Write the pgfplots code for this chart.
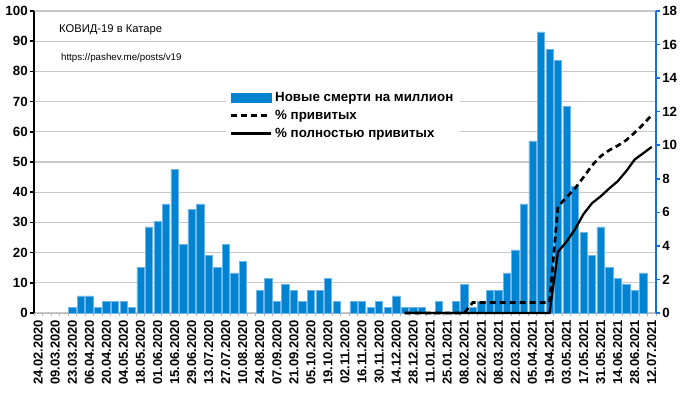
\documentclass[border=0pt]{standalone}
\usepackage{fontspec}
\setmainfont{Liberation Sans}
\usepackage{pgfplots}
\usepackage{pgfplotstable}
\pgfplotsset{compat=1.18}
\definecolor{barblue}{RGB}{0,132,209}
\definecolor{baredge}{RGB}{110,180,232}
\definecolor{axblue}{RGB}{24,110,216}
\definecolor{gridgray}{RGB}{200,200,200}
\pgfplotsset{
  mylinelegend/.style={legend image code/.code={\draw[##1] (0pt,0pt) -- (30pt,0pt);}},
  mybarlegend/.style={legend image code/.code={\fill[barblue] (0pt,-3.4pt) rectangle (30pt,3.4pt);}},
}

\pgfplotstableread{
i d
4 1.9
5 5.7
6 5.7
7 1.9
8 3.8
9 3.8
10 3.8
11 1.9
12 15.2
13 28.5
14 30.4
15 36.1
16 47.5
17 22.8
18 34.2
19 36.1
20 19.0
21 15.2
22 22.8
23 13.3
24 17.1
26 7.6
27 11.4
28 3.8
29 9.5
30 7.6
31 3.8
32 7.6
33 7.6
34 11.4
35 3.8
37 3.8
38 3.8
39 1.9
40 3.8
41 1.9
42 5.7
43 1.9
44 1.9
45 1.9
47 3.8
49 3.8
50 9.5
51 1.9
52 3.8
53 7.6
54 7.6
55 13.3
56 20.9
57 36.1
58 57.0
59 93.1
60 87.4
61 83.6
62 68.4
63 41.8
64 26.6
65 19.0
66 28.5
67 15.2
68 11.4
69 9.5
70 7.6
71 13.3
}\deaths

\pgfplotstableread{
i v
43 0
44 0
45 0
46 0
47 0
48 0
49 0
50 0
51 0.63
52 0.63
53 0.63
54 0.63
55 0.63
56 0.63
57 0.63
58 0.63
59 0.63
60 0.63
61 6.35
62 6.9
63 7.43
64 8.1
65 8.8
66 9.34
67 9.7
68 9.97
69 10.3
70 10.75
71 11.25
72 11.8
}\vacc

\pgfplotstableread{
i v
43 0
44 0
45 0
46 0
47 0
48 0
49 0
50 0
51 0
52 0
53 0
54 0
55 0
56 0
57 0
58 0
59 0
60 0
61 3.65
62 4.25
63 5.0
64 5.9
65 6.55
66 6.95
67 7.42
68 7.85
69 8.45
70 9.15
71 9.52
72 9.9
}\full

\begin{document}
\begin{tikzpicture}
\useasboundingbox (-25.5pt,-60pt) rectangle (499.5pt,234.75pt);
\begin{axis}[
  scale only axis, width=466.5pt, height=226.5pt,
  at={(0pt,0pt)}, anchor=south west,
  xmin=-0.5, xmax=72.5, ymin=0, ymax=100,
  axis x line*=bottom, axis y line*=left,
  x axis line style={draw=gray!55, line width=0.6pt},
  y axis line style={black, line width=1.5pt},
  ytick={0,10,...,100},
  xtick={0,2,...,72},
  xticklabels={24.02.2020,09.03.2020,23.03.2020,06.04.2020,20.04.2020,04.05.2020,18.05.2020,01.06.2020,15.06.2020,29.06.2020,13.07.2020,27.07.2020,10.08.2020,24.08.2020,07.09.2020,21.09.2020,05.10.2020,19.10.2020,02.11.2020,16.11.2020,30.11.2020,14.12.2020,28.12.2020,11.01.2021,25.01.2021,08.02.2021,22.02.2021,08.03.2021,22.03.2021,05.04.2021,19.04.2021,03.05.2021,17.05.2021,31.05.2021,14.06.2021,28.06.2021,12.07.2021},
  minor xtick={-0.5,0.5,...,72.5},
  tick align=outside,
  major tick length=3pt,
  minor tick length=2.5pt,
  every major x tick/.append style={draw=none},
  every minor x tick/.append style={draw=gray!60, line width=0.5pt},
  ytick style={black, line width=1.1pt},
  ymajorgrids,
  major grid style={draw=gridgray, line width=0.9pt},
  /pgf/number format/assume math mode=true,
  yticklabel style={font=\bfseries\fontsize{10}{12}\selectfont, inner sep=1.5pt},
  xticklabel style={font=\bfseries\fontsize{9.7}{11}\selectfont, rotate=90, anchor=east, inner sep=2pt},
  clip=false,
]
\addplot[ybar, bar width=0.86, fill=barblue, draw=baredge, line width=0.4pt] table[x=i, y=d] {\deaths};
\node[anchor=west, font=\fontsize{8.4}{10}\selectfont] at (rel axis cs:0.033,0.937) {КОВИД-19 в Катаре};
\node[anchor=west, font=\fontsize{7.3}{9}\selectfont] at (rel axis cs:0.036,0.846) {https://pashev.me/posts/v19};
\end{axis}
\begin{axis}[
  scale only axis, width=466.5pt, height=226.5pt,
  at={(0pt,0pt)}, anchor=south west,
  xmin=-0.5, xmax=72.5, ymin=0, ymax=18,
  axis x line=none, axis y line*=right,
  y axis line style={axblue, line width=1.5pt},
  ytick={0,2,...,18},
  tick align=outside,
  major tick length=3pt,
  ytick style={axblue, line width=1.1pt},
  /pgf/number format/assume math mode=true,
  yticklabel style={font=\bfseries\fontsize{10}{12}\selectfont, inner sep=1.5pt},
  legend style={draw=none, fill=white, at={(0.308,0.755)}, anchor=north west,
    font=\bfseries\fontsize{10}{11}\selectfont, row sep=1.1pt, inner sep=3pt,
    cells={anchor=west}},
  clip=false,
]
\addlegendimage{mybarlegend}
\addlegendentry{Новые смерти на миллион}
\addplot[black, line width=2pt, dash pattern=on 4.5pt off 3pt, mylinelegend] table[x=i, y=v] {\vacc};
\addlegendentry{\% привитых}
\addplot[black, line width=1.7pt, mylinelegend] table[x=i, y=v] {\full};
\addlegendentry{\% полностью привитых}
\end{axis}
\end{tikzpicture}
\end{document}
